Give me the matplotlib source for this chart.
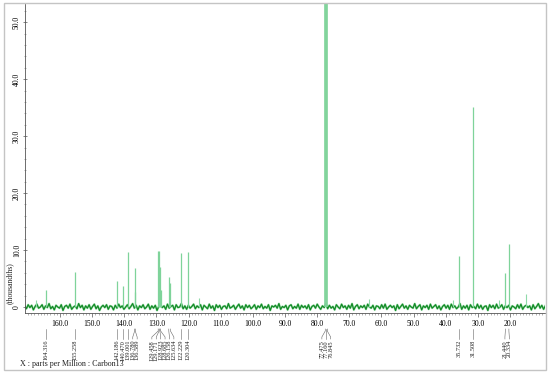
import numpy as np
import matplotlib
matplotlib.use("Agg")
import matplotlib.pyplot as plt
from matplotlib.ticker import MultipleLocator, FuncFormatter
from matplotlib.transforms import blended_transform_factory
from matplotlib.patches import Rectangle

plt.rcParams['font.family'] = ['Liberation Serif', 'DejaVu Serif']

# labelled peaks (ppm) and their heights (thousands)
peak_ppm = [164.316, 155.258, 142.186, 140.470, 139.001, 136.780, 136.589,
            129.458, 129.171, 128.923, 128.685, 126.158, 125.634, 122.229, 120.304,
            77.475, 77.160, 76.845,
            35.732, 31.508, 21.440, 20.334]
peak_height = [3.0, 6.2, 4.6, 3.7, 9.7, 6.8, 2.6,
               9.9, 9.9, 7.0, 3.0, 5.3, 4.2, 9.5, 9.7,
               90.0, 90.0, 90.0,
               9.0, 35.1, 6.0, 11.0]

# small unlabelled peaks
small_ppm = [167.5, 116.9, 64.0, 37.8, 23.5, 15.0]
small_height = [1.2, 1.5, 1.4, 1.2, 1.3, 2.2]

# baseline noise read across the spectrum (thousands), from 171 ppm down to 9 ppm
noise = [
    0.2, -0.3, 0.4, -0.1, 0.3, -0.5, 0.1, 0.5, -0.2, 0.0, 0.4, -0.4, 0.2, -0.1, 0.6, -0.3, 0.1, -0.5, 0.3, 0.0,
    -0.2, 0.4, -0.6, 0.1, 0.3, -0.2, 0.5, -0.4, 0.0, 0.2, -0.3, 0.6, -0.1, 0.3, -0.5, 0.2, -0.2, 0.4, -0.4, 0.1,
    0.5, -0.3, 0.2, -0.6, 0.0, 0.3, -0.1, 0.4, -0.4, 0.2, 0.1, -0.5, 0.3, -0.2, 0.5, -0.1, 0.2, -0.4, 0.0, 0.4,
    -0.3, 0.1, 0.6, -0.2, 0.3, -0.5, 0.2, -0.1, 0.4, -0.3, 0.0, 0.5, -0.4, 0.2, -0.2, 0.3, -0.6, 0.1, 0.4, -0.1,
    0.2, -0.4, 0.5, -0.2, 0.1, 0.3, -0.5, 0.4, -0.1, 0.0, 0.6, -0.3, 0.2, -0.4, 0.3, -0.2, 0.1, 0.5, -0.3, 0.2,
    -0.1, 0.4, -0.5, 0.3, 0.0, -0.3, 0.5, -0.2, 0.2, -0.6, 0.4, -0.1, 0.3, -0.4, 0.1, 0.2, -0.3, 0.6, -0.2, 0.0,
    0.3, -0.4, 0.1, 0.5, -0.2, 0.2, -0.5, 0.4, -0.1, 0.3, -0.3, 0.0, 0.4, -0.4, 0.2, -0.1, 0.5, -0.3, 0.1, -0.2,
    0.4, -0.6, 0.2, 0.0, 0.3, -0.2, 0.6, -0.4, 0.1, -0.1, 0.3, -0.5, 0.2, 0.4, -0.3, 0.1, -0.2, 0.5, -0.4, 0.3,
    -0.1, 0.2, -0.3, 0.4, -0.5, 0.1, 0.3, -0.2, 0.5, 0.0, -0.4, 0.2, -0.1, 0.6, -0.3, 0.3, -0.2, 0.1, -0.5, 0.4,
    0.0, -0.3, 0.5, -0.1, 0.2, -0.4, 0.3, -0.2, 0.6, -0.5, 0.1, 0.4, -0.3, 0.2, -0.1, 0.3, -0.4, 0.5, 0.0, -0.2,
    0.3, -0.5, 0.2, 0.1, -0.3, 0.4, -0.2, 0.5, -0.4, 0.0, 0.3, -0.1, 0.2, -0.6, 0.4, -0.3, 0.1, 0.5, -0.2, 0.2,
    -0.4, 0.3, 0.0, -0.2, 0.6, -0.3, 0.1, 0.4, -0.5, 0.2, -0.1, 0.3, -0.4, 0.5, -0.2, 0.1, 0.4, -0.3, 0.2, -0.5,
    0.1, 0.4, -0.2, 0.3, -0.4, 0.5, -0.1, 0.2, -0.3, 0.0, 0.6, -0.4, 0.2, -0.2, 0.3, -0.5, 0.4, -0.1, 0.1, -0.3,
    0.5, -0.2, 0.3, -0.4, 0.1, 0.2, -0.6, 0.4, -0.1, 0.3, -0.3, 0.5, -0.2, 0.0, 0.4, -0.4, 0.2, -0.1, 0.3, -0.5,
    0.2, 0.0, -0.3, 0.4, -0.2, 0.5, -0.4, 0.1, 0.3, -0.1, 0.2, -0.5, 0.4, -0.3, 0.1, 0.6, -0.2, 0.3, -0.4, 0.2,
]
noise_start, noise_end = 171.0, 9.0

x_ticks = [160, 150, 140, 130, 120, 110, 100, 90, 80, 70, 60, 50, 40, 30, 20]
y_ticks = [0, 10, 20, 30, 40, 50]

W, H = 550, 373
fig = plt.figure(figsize=(W / 100, H / 100), dpi=100)
ax = fig.add_axes([25 / W, 1 - 313 / H, 520 / W, 309 / H])

noise_x = np.linspace(noise_start, noise_end, len(noise))
ax.plot(noise_x, noise, color='#6fcf85', lw=1.6, alpha=0.6, zorder=2)
ax.plot(noise_x, noise, color='#138a26', lw=0.9, zorder=2)

solvent = [h > 53 for h in peak_height]
for p, h, s in zip(peak_ppm, peak_height, solvent):
    ax.vlines(p, 0, h, color='#7fd39a', lw=1.2 if s else 0.9, zorder=3)
ax.vlines(small_ppm, 0, small_height, color='#8fdaa8', lw=0.8, zorder=3)

ax.set_xlim(170.9, 9.1)
ax.set_ylim(-1.05, 53.2)

for side in ['top', 'right']:
    ax.spines[side].set_visible(False)
for side in ['left', 'bottom']:
    ax.spines[side].set_color('#555555')
    ax.spines[side].set_linewidth(0.6)

ax.set_xticks(x_ticks)
ax.set_xticklabels([f'{t:.1f}' for t in x_ticks])
ax.xaxis.set_minor_locator(MultipleLocator(1))
ax.set_yticks(y_ticks)
ax.yaxis.set_major_formatter(FuncFormatter(lambda v, _: '0' if v == 0 else f'{v:.1f}'))
ax.yaxis.set_minor_locator(MultipleLocator(2))
ax.tick_params(axis='x', which='major', length=3, width=0.5, pad=2, labelsize=5.5, color='#555555')
ax.tick_params(axis='x', which='minor', length=1.5, width=0.4, color='#777777')
ax.tick_params(axis='y', which='major', direction='inout', length=3, width=0.5, pad=1.5,
               labelsize=5.5, color='#555555', labelrotation=90)
ax.tick_params(axis='y', which='minor', direction='inout', length=1.5, width=0.4, color='#777777')
for lbl in ax.get_yticklabels():
    lbl.set_va('center')

# peak labels below the axis, spread apart where crowded
gap = 1.37
clusters = []
for p in sorted(peak_ppm, reverse=True):
    clusters.append([p])
    while len(clusters) > 1:
        a, b = clusters[-2], clusters[-1]
        a_low = np.mean(a) - gap * (len(a) - 1) / 2
        b_high = np.mean(b) + gap * (len(b) - 1) / 2
        if a_low - b_high < gap:
            clusters[-2:] = [a + b]
        else:
            break

trans = blended_transform_factory(ax.transData, fig.transFigure)
fy = lambda py: 1 - py / H
for c in clusters:
    center = np.mean(c)
    n = len(c)
    for i, p in enumerate(c):
        lp = center + gap * ((n - 1) / 2 - i)
        ax.plot([p, p, lp, lp], [fy(329), fy(331), fy(337), fy(339)], transform=trans,
                color='#666666', lw=0.4, clip_on=False)
        ax.text(lp, fy(340), f'{p:.3f}', transform=trans, rotation=90, ha='center', va='top',
                fontsize=4.6, color='#222222')

fig.text(10 / W, 1 - 283 / H, '(thousandths)', rotation=90, ha='center', va='center',
         fontsize=5.5, color='#222222')
fig.text(20 / W, 1 - 364 / H, 'X : parts per Million : Carbon13', ha='left', va='center',
         fontsize=5.8, color='#222222')

fig.add_artist(Rectangle((4 / W, 3 / H), 542 / W, 367 / H, transform=fig.transFigure,
                         fill=False, edgecolor='#c4c4c4', lw=1))

fig.savefig('out.png', dpi=100)
